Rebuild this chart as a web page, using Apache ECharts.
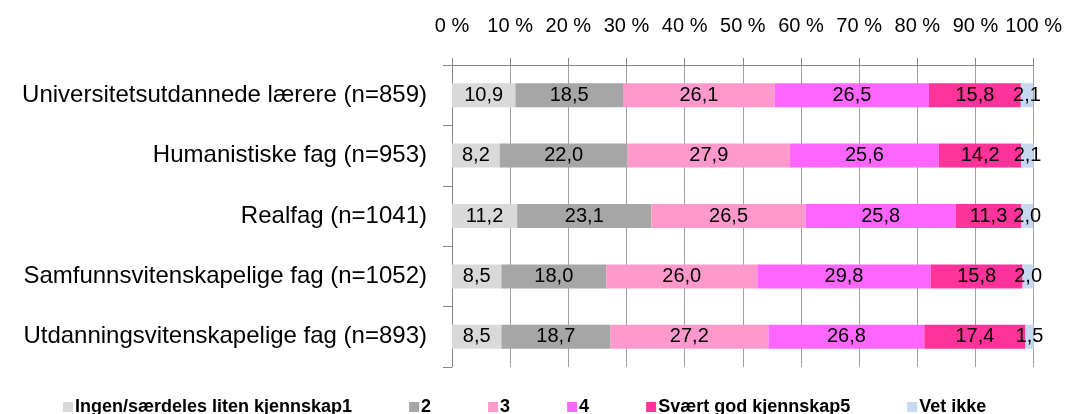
<!DOCTYPE html>
<html>
<head>
<meta charset="utf-8">
<script src="https://cdn.jsdelivr.net/npm/echarts@6/dist/echarts.min.js"></script>
<style>html,body{margin:0;padding:0;background:#fff;}#c{width:1065px;height:414px;}</style>
</head>
<body>
<div id="c"></div>
<script>
const categories = [
  "Universitetsutdannede lærere (n=859)",
  "Humanistiske fag (n=953)",
  "Realfag (n=1041)",
  "Samfunnsvitenskapelige fag (n=1052)",
  "Utdanningsvitenskapelige fag (n=893)"
];
const seriesNames = ["Ingen/særdeles liten kjennskap1", "2", "3", "4", "Svært god kjennskap5", "Vet ikke"];
const s1 = [10.9, 8.2, 11.2, 8.5, 8.5];
const s2 = [18.5, 22.0, 23.1, 18.0, 18.7];
const s3 = [26.1, 27.9, 26.5, 26.0, 27.2];
const s4 = [26.5, 25.6, 25.8, 29.8, 26.8];
const s5 = [15.8, 14.2, 11.3, 15.8, 17.4];
const s6 = [2.1, 2.1, 2.0, 2.0, 1.5];
const xTicks = [0, 10, 20, 30, 40, 50, 60, 70, 80, 90, 100];

const colors = ["#d9d9d9", "#a6a6a6", "#ff99cc", "#ff66ff", "#ff3399", "#c6d9f1"];
const FONT = "'Liberation Sans', Arial, sans-serif";
const allData = [s1, s2, s3, s4, s5, s6];

const chart = echarts.init(document.getElementById('c'), null, {renderer: 'canvas'});
chart.setOption({
  animation: false,
  backgroundColor: '#ffffff',
  color: colors,
  grid: {left: 452, right: 31, top: 65, bottom: 47, containLabel: false},
  legend: {
    bottom: -7, left: 58,
    itemWidth: 10, itemHeight: 10, itemGap: 57,
    icon: 'rect',
    textStyle: {fontFamily: FONT, fontSize: 18, fontWeight: 'bold', color: '#000', padding: [0, 0, 0, -3]},
    data: seriesNames
  },
  xAxis: {
    type: 'value', position: 'top', min: 0, max: 100, interval: 10,
    axisLine: {show: true, lineStyle: {color: '#868686', width: 1}},
    axisTick: {show: true, length: 7, lineStyle: {color: '#868686'}},
    splitLine: {show: true, lineStyle: {color: '#a0a0a0', width: 1}},
    axisLabel: {
      margin: 29, fontFamily: FONT, fontSize: 20, color: '#000',
      formatter: function (v) { return xTicks.indexOf(v) >= 0 ? v + ' %' : ''; }
    }
  },
  yAxis: {
    type: 'category', inverse: true, data: categories,
    axisLine: {show: true, lineStyle: {color: '#868686'}},
    axisTick: {show: true, length: 9, lineStyle: {color: '#868686'}},
    axisLabel: {margin: 25, fontFamily: FONT, fontSize: 24, color: '#000'}
  },
  series: allData.map(function (d, i) {
    return {
      name: seriesNames[i], type: 'bar', stack: 'total', data: d,
      barWidth: 24,
      itemStyle: {color: colors[i]},
      label: {
        show: true, position: 'inside', color: '#000',
        fontFamily: FONT, fontSize: 20,
        formatter: function (p) { return p.value.toFixed(1).replace('.', ','); }
      }
    };
  })
});
</script>
</body>
</html>
